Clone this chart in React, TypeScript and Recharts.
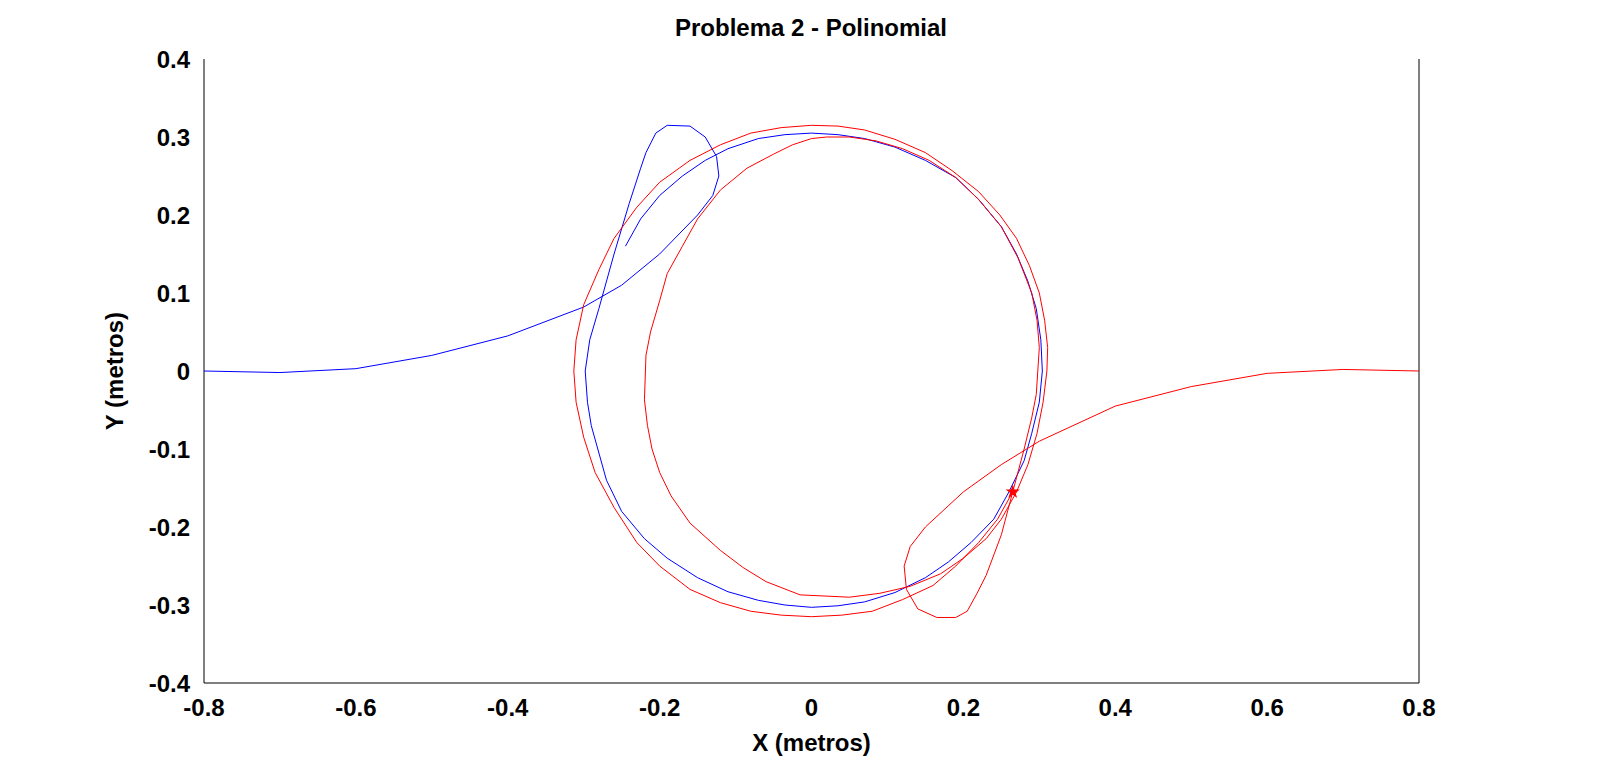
import React from 'react';
import { ScatterChart, Scatter, XAxis, YAxis, Label } from 'recharts';

const xTicks = [-0.8, -0.6, -0.4, -0.2, 0, 0.2, 0.4, 0.6, 0.8];
const yTicks = [-0.4, -0.3, -0.2, -0.1, 0, 0.1, 0.2, 0.3, 0.4];

const bluePath = [
  [-0.8, 0], [-0.7, -0.002], [-0.6, 0.003], [-0.5, 0.02], [-0.4, 0.045], [-0.3, 0.082],
  [-0.25, 0.11], [-0.2, 0.15], [-0.15, 0.2], [-0.13, 0.225], [-0.122, 0.25], [-0.125, 0.275],
  [-0.14, 0.3], [-0.16, 0.314], [-0.19, 0.315], [-0.205, 0.305], [-0.218, 0.28],
  [-0.225, 0.26], [-0.24, 0.215], [-0.26, 0.15], [-0.28, 0.08], [-0.292, 0.04], [-0.298, 0],
  [-0.295, -0.04], [-0.29, -0.07], [-0.27, -0.14], [-0.25, -0.18], [-0.22, -0.215],
  [-0.19, -0.24], [-0.15, -0.265], [-0.11, -0.283], [-0.07, -0.294], [-0.035, -0.3],
  [0, -0.303], [0.035, -0.301], [0.07, -0.296], [0.11, -0.284], [0.15, -0.265],
  [0.18, -0.245], [0.21, -0.22], [0.24, -0.19], [0.26, -0.155], [0.28, -0.115],
  [0.29, -0.08], [0.3, -0.04], [0.304, 0], [0.302, 0.04], [0.296, 0.08], [0.285, 0.115],
  [0.27, 0.15], [0.25, 0.185], [0.22, 0.22], [0.19, 0.248], [0.15, 0.27], [0.11, 0.287],
  [0.07, 0.298], [0.035, 0.303], [0, 0.305], [-0.035, 0.303], [-0.07, 0.298],
  [-0.11, 0.285], [-0.14, 0.27], [-0.17, 0.25], [-0.2, 0.225], [-0.225, 0.195], [-0.245, 0.16],
];

const redPath = [
  [0.8, 0], [0.7, 0.002], [0.6, -0.003], [0.5, -0.02], [0.4, -0.045], [0.3, -0.09],
  [0.25, -0.12], [0.2, -0.155], [0.15, -0.2], [0.13, -0.225], [0.122, -0.25], [0.125, -0.28],
  [0.14, -0.305], [0.165, -0.316], [0.19, -0.316], [0.205, -0.308], [0.218, -0.285],
  [0.23, -0.262], [0.25, -0.21], [0.265, -0.155], [0.28, -0.1], [0.29, -0.06],
  [0.296, -0.03], [0.3, 0.03], [0.297, 0.065], [0.29, 0.1], [0.272, 0.145], [0.25, 0.185],
  [0.22, 0.22], [0.19, 0.248], [0.155, 0.27], [0.12, 0.285], [0.085, 0.295], [0.05, 0.3],
  [0.02, 0.3], [0.0, 0.298], [-0.025, 0.29], [-0.05, 0.278], [-0.085, 0.26], [-0.12, 0.232],
  [-0.15, 0.195], [-0.17, 0.16], [-0.19, 0.125], [-0.2, 0.09], [-0.212, 0.05], [-0.218, 0.02],
  [-0.22, -0.037], [-0.216, -0.07], [-0.21, -0.1], [-0.2, -0.13], [-0.185, -0.16],
  [-0.16, -0.195], [-0.12, -0.23], [-0.09, -0.252], [-0.06, -0.27], [-0.015, -0.287],
  [0.05, -0.29], [0.09, -0.285], [0.13, -0.276], [0.17, -0.26], [0.2, -0.24], [0.23, -0.215],
  [0.25, -0.19], [0.27, -0.155], [0.285, -0.12], [0.297, -0.08], [0.305, -0.04], [0.31, 0],
  [0.311, 0.03], [0.307, 0.065], [0.3, 0.1], [0.287, 0.135], [0.27, 0.17], [0.248, 0.2],
  [0.22, 0.23], [0.185, 0.257], [0.15, 0.28], [0.11, 0.297], [0.07, 0.309], [0.035, 0.314],
  [0, 0.315], [-0.04, 0.312], [-0.08, 0.305], [-0.12, 0.29], [-0.16, 0.27], [-0.2, 0.242],
  [-0.23, 0.21], [-0.26, 0.17], [-0.28, 0.13], [-0.3, 0.085], [-0.31, 0.04], [-0.313, 0],
  [-0.31, -0.04], [-0.3, -0.085], [-0.285, -0.13], [-0.26, -0.175], [-0.23, -0.22],
  [-0.2, -0.25], [-0.16, -0.28], [-0.12, -0.297], [-0.08, -0.308], [-0.04, -0.313],
  [0, -0.315], [0.04, -0.313], [0.08, -0.308], [0.12, -0.293], [0.16, -0.275],
  [0.19, -0.25], [0.22, -0.22], [0.245, -0.19], [0.265, -0.155],
];

const endPoint = [[0.265, -0.155]];

const toPts = (a: number[][]) => a.map(([x, y]) => ({ x, y }));
const font = { fontFamily: 'Liberation Sans, Arial, sans-serif', fontWeight: 'bold' as const };
const fmt = (v: number) => (v === 0 ? '0' : String(v));

export default function App() {
  return (
    <div style={{ margin: -8, background: '#fff', width: 1599, height: 783, position: 'relative' }}>
      <div style={{ position: 'absolute', top: 14, left: 0, width: 1622, textAlign: 'center', fontSize: 24, color: '#000', ...font }}>
        Problema 2 - Polinomial
      </div>
      <ScatterChart width={1599} height={783} margin={{ top: 59, right: 179, bottom: 70, left: 144 }}>
        <XAxis type="number" dataKey="x" domain={[-0.8, 0.8]} ticks={xTicks} tickFormatter={fmt}
          stroke="#000" tickLine={false} tick={{ fill: '#000', fontSize: 24, dy: 8, ...font }} height={30}>
          <Label value="X (metros)" position="insideBottom" offset={-38} style={{ fill: '#000', fontSize: 24, ...font }} />
        </XAxis>
        <XAxis xAxisId="top" orientation="top" type="number" domain={[-0.8, 0.8]} ticks={xTicks}
          stroke="#000" tickLine={false} tick={false} height={0} />
        <YAxis type="number" dataKey="y" domain={[-0.4, 0.4]} ticks={yTicks} tickFormatter={fmt}
          stroke="#000" tickLine={false} tick={{ fill: '#000', fontSize: 24, dx: -6, ...font }} width={60}>
          <Label value="Y (metros)" angle={-90} position="insideLeft" offset={-30} style={{ fill: '#000', fontSize: 24, textAnchor: 'middle', ...font }} />
        </YAxis>
        <YAxis yAxisId="right" orientation="right" type="number" domain={[-0.4, 0.4]} ticks={yTicks}
          stroke="#000" tickLine={false} tick={false} width={1} />
        <Scatter data={toPts(bluePath)} line={{ stroke: '#0000ff', strokeWidth: 1 }} lineType="joint" shape={() => null} isAnimationActive={false} />
        <Scatter data={toPts(redPath)} line={{ stroke: '#ff0000', strokeWidth: 1 }} lineType="joint" shape={() => null} isAnimationActive={false} />
        <Scatter data={toPts(endPoint)} fill="#ff0000" shape="star" isAnimationActive={false} />
      </ScatterChart>
    </div>
  );
}
